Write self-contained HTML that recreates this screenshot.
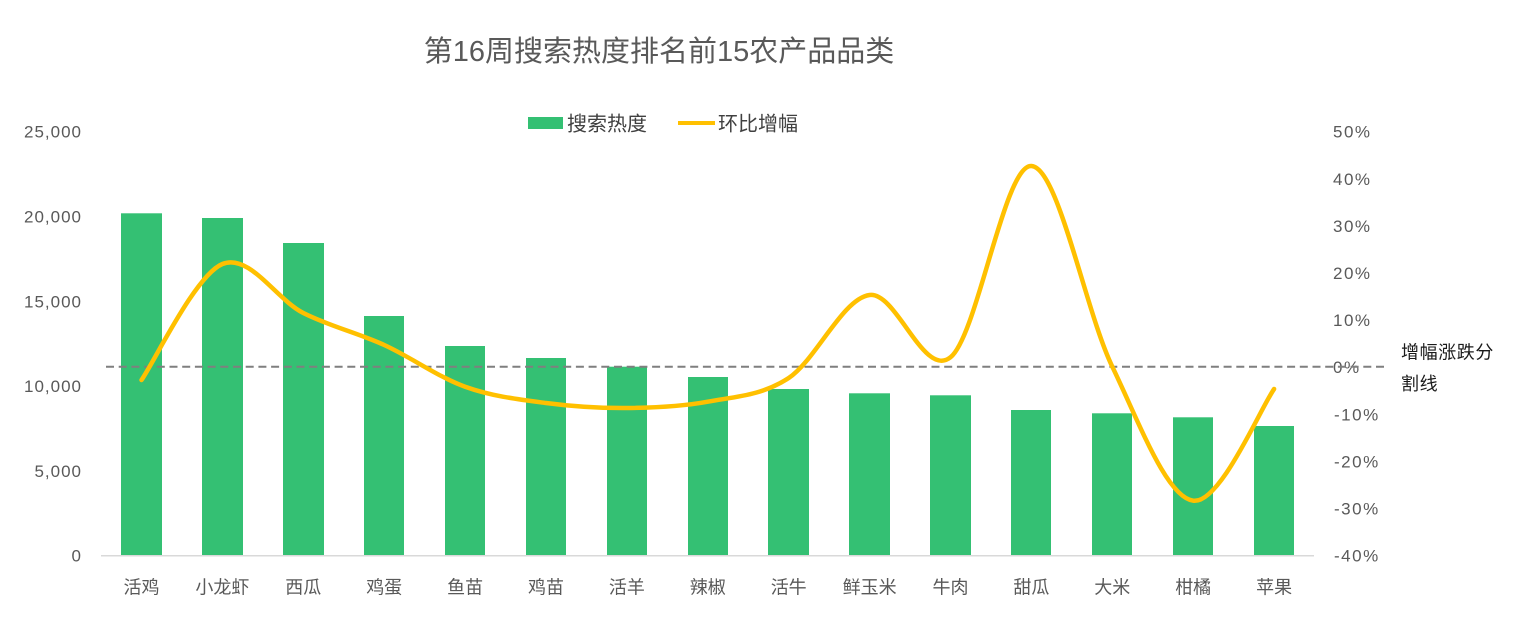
<!DOCTYPE html>
<html>
<head>
<meta charset="utf-8">
<style>
html,body{margin:0;padding:0;background:#fff;}
svg{display:block;}
text{font-family:"Liberation Sans","Noto Sans CJK SC",sans-serif;}
</style>
</head>
<body>
<svg width="1527" height="628" viewBox="0 0 1527 628" xmlns="http://www.w3.org/2000/svg">
<rect width="1527" height="628" fill="#fff"/>
<!-- Title -->
<text x="659" y="61" font-size="29" fill="#595959" text-anchor="middle">第16周搜索热度排名前15农产品品类</text>
<!-- Legend -->
<rect x="528" y="117" width="35" height="12" fill="#34C073"/>
<text x="567" y="130.5" font-size="20" fill="#404040">搜索热度</text>
<line x1="678" y1="123" x2="715" y2="123" stroke="#FFC000" stroke-width="4"/>
<text x="718" y="130.5" font-size="20" fill="#404040">环比增幅</text>
<!-- Left axis labels -->
<g font-size="17" fill="#595959" text-anchor="end" letter-spacing="1">
<text x="82" y="137.7">25,000</text>
<text x="82" y="222.5">20,000</text>
<text x="82" y="307.3">15,000</text>
<text x="82" y="392.1">10,000</text>
<text x="82" y="476.9">5,000</text>
<text x="82" y="561.7">0</text>
</g>
<!-- Right axis labels -->
<g font-size="17" fill="#595959" letter-spacing="1.5">
<text x="1333" y="137.7">50%</text>
<text x="1333" y="184.8">40%</text>
<text x="1333" y="231.9">30%</text>
<text x="1333" y="279">20%</text>
<text x="1333" y="326.1">10%</text>
<text x="1333" y="373.2">0%</text>
<text x="1334" y="420.3">-10%</text>
<text x="1334" y="467.4">-20%</text>
<text x="1334" y="514.5">-30%</text>
<text x="1334" y="561.6">-40%</text>
</g>
<!-- Bars -->
<g fill="#34C073">
<rect x="121" y="213.3" width="41" height="342"/>
<rect x="202" y="218" width="41" height="337.3"/>
<rect x="283" y="243" width="41" height="312.3"/>
<rect x="364" y="316" width="40" height="239.3"/>
<rect x="445" y="346" width="40" height="209.3"/>
<rect x="526" y="358" width="40" height="197.3"/>
<rect x="607" y="366.7" width="40" height="188.6"/>
<rect x="688" y="377" width="40" height="178.3"/>
<rect x="768" y="389" width="41" height="166.3"/>
<rect x="849" y="393.3" width="41" height="162"/>
<rect x="930" y="395.3" width="41" height="160"/>
<rect x="1011" y="410" width="40" height="145.3"/>
<rect x="1092" y="413.3" width="40" height="142"/>
<rect x="1173" y="417.3" width="40" height="138"/>
<rect x="1254" y="426" width="40" height="129.3"/>
</g>
<!-- Axis line -->
<line x1="101" y1="555.8" x2="1314" y2="555.8" stroke="#D9D9D9" stroke-width="1.5"/>
<!-- Dashed zero line -->
<line x1="106" y1="366.7" x2="1384" y2="366.7" stroke="#7F7F7F" stroke-width="2" stroke-dasharray="8,4.7"/>
<!-- Smooth line -->
<path d="M141.5 380 C154.98 360.67 195.43 275.17 222.4 264 C249.37 252.83 276.33 299.5 303.3 313 C330.27 326.5 357.23 332.72 384.2 345 C411.17 357.28 438.13 377.03 465.1 386.7 C492.07 396.37 519.03 399.45 546 403 C572.97 406.55 599.93 408.22 626.9 408 C653.87 407.78 680.83 406.7 707.8 401.7 C734.77 396.7 761.73 395.78 788.7 378 C815.67 360.22 842.63 298.45 869.6 295 C896.57 291.55 923.53 378.8 950.5 357.3 C977.47 335.8 1004.43 164.43 1031.4 166 C1058.37 167.57 1085.33 310.92 1112.3 366.7 C1139.27 422.48 1166.23 496.98 1193.2 500.7 C1220.17 504.42 1260.62 407.62 1274.1 389" fill="none" stroke="#FFC000" stroke-width="4.5" stroke-linecap="round" stroke-linejoin="round"/>
<!-- X labels -->
<g font-size="18" fill="#595959" text-anchor="middle">
<text x="141.5" y="593.5">活鸡</text>
<text x="222.4" y="593.5">小龙虾</text>
<text x="303.3" y="593.5">西瓜</text>
<text x="384.2" y="593.5">鸡蛋</text>
<text x="465.1" y="593.5">鱼苗</text>
<text x="546" y="593.5">鸡苗</text>
<text x="626.9" y="593.5">活羊</text>
<text x="707.8" y="593.5">辣椒</text>
<text x="788.7" y="593.5">活牛</text>
<text x="869.6" y="593.5">鲜玉米</text>
<text x="950.5" y="593.5">牛肉</text>
<text x="1031.4" y="593.5">甜瓜</text>
<text x="1112.3" y="593.5">大米</text>
<text x="1193.2" y="593.5">柑橘</text>
<text x="1274.1" y="593.5">苹果</text>
</g>
<!-- Annotation -->
<g font-size="18" fill="#1a1a1a" letter-spacing="0.6">
<text x="1401" y="358.5">增幅涨跌分</text>
<text x="1401" y="390">割线</text>
</g>
</svg>
</body>
</html>
